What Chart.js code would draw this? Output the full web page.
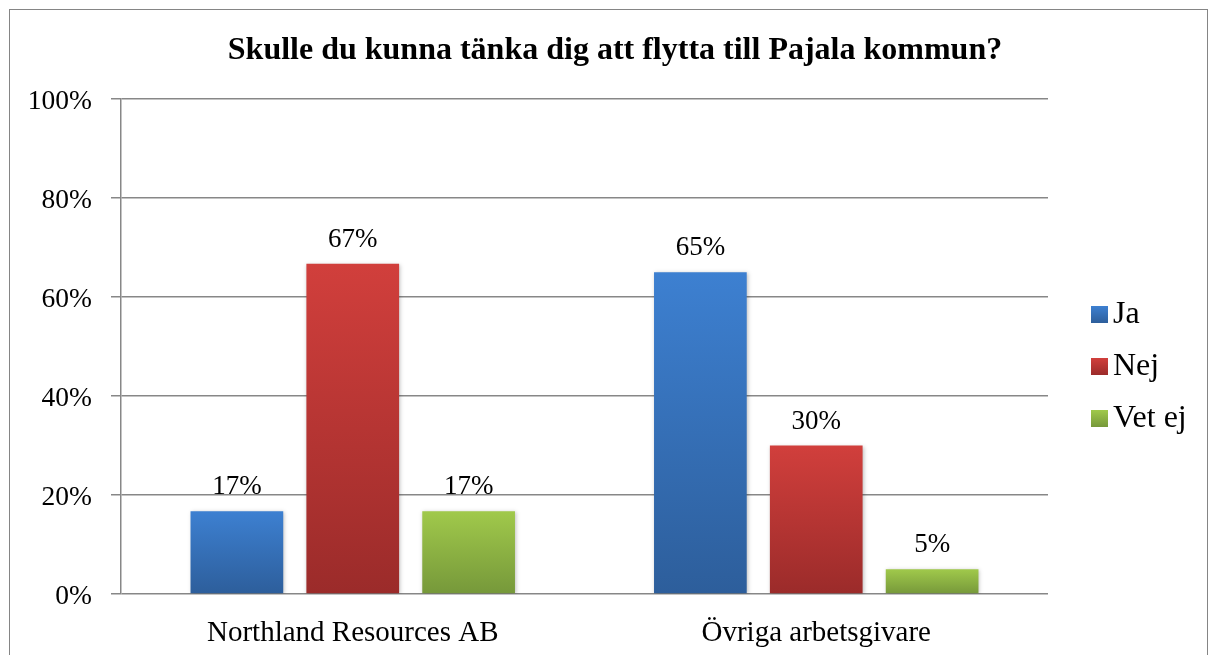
<!DOCTYPE html>
<html>
<head>
<meta charset="utf-8">
<script src="https://cdn.jsdelivr.net/npm/chart.js@4.4.1/dist/chart.umd.min.js"></script>
<style>
  html, body { margin: 0; padding: 0; background: #fff; }
  #wrap { position: relative; width: 1215px; height: 655px; overflow: hidden; }
  #frame { position: absolute; left: 9px; top: 9px; width: 1197px; height: 700px; border: 1px solid #858585; }
  canvas { position: absolute; left: 0; top: 0; }
</style>
</head>
<body>
<div id="wrap">
  <div id="frame"></div>
  <canvas id="chart" width="1215" height="655"></canvas>
</div>
<script>
const chartTitle = 'Skulle du kunna tänka dig att flytta till Pajala kommun?';
const categories = ['Northland Resources AB', 'Övriga arbetsgivare'];
const seriesNames = ['Ja', 'Nej', 'Vet ej'];
const ja = [16.7, 65];
const nej = [66.7, 30];
const vetEj = [16.7, 5];
const yMax = 100;
const yStep = 20;

const serif = '"Liberation Serif", "Times New Roman", serif';
const gridColor = '#878787';

// top / bottom colours of each series gradient
const shades = [
    ['#3d80d1', '#2d5e9b'],
    ['#d13f3c', '#9b2b2a'],
    ['#a0c94b', '#76983a']
];

const barFill = (top, bottom) => (c) => {
    const y = c.chart.scales.y;
    if (c.type !== 'data' || !y) return top;
    const y0 = y.getPixelForValue(c.raw);
    const y1 = y.getPixelForValue(0);
    if (!isFinite(y0) || !isFinite(y1) || y0 === y1) return top;
    const g = c.chart.ctx.createLinearGradient(0, y0, 0, y1);
    g.addColorStop(0, top);
    g.addColorStop(1, bottom);
    return g;
};

const shadowPlugin = {
    id: 'barShadow',
    beforeDatasetsDraw(chart) {
        const ctx = chart.ctx;
        ctx.save();
        ctx.shadowColor = 'rgba(0,0,0,0.25)';
        ctx.shadowBlur = 4;
        ctx.shadowOffsetX = 1;
        ctx.shadowOffsetY = 1;
    },
    afterDatasetsDraw(chart) {
        chart.ctx.restore();
    }
};

const valueLabels = {
    id: 'valueLabels',
    afterDatasetsDraw(chart) {
        const ctx = chart.ctx;
        ctx.save();
        ctx.font = '27px ' + serif;
        ctx.fillStyle = '#000';
        ctx.textAlign = 'center';
        ctx.textBaseline = 'alphabetic';
        chart.data.datasets.forEach((ds, i) => {
            chart.getDatasetMeta(i).data.forEach((bar, j) => {
                ctx.fillText(Math.round(ds.data[j]) + '%', bar.x, bar.y - 17);
            });
        });
        ctx.restore();
    }
};

const titleAndLegend = {
    id: 'titleAndLegend',
    afterDraw(chart) {
        const ctx = chart.ctx;
        ctx.save();
        ctx.fillStyle = '#000';
        ctx.font = 'bold 32px ' + serif;
        ctx.textAlign = 'center';
        ctx.textBaseline = 'alphabetic';
        ctx.fillText(chartTitle, 615, 59);

        ctx.font = '32px ' + serif;
        ctx.textAlign = 'left';
        chart.data.datasets.forEach((ds, i) => {
            const cy = 314 + i * 52;
            const g = ctx.createLinearGradient(0, cy - 8, 0, cy + 9);
            g.addColorStop(0, shades[i][0]);
            g.addColorStop(1, shades[i][1]);
            ctx.fillStyle = g;
            ctx.fillRect(1091, cy - 8, 17, 17);
            ctx.fillStyle = '#000';
            ctx.fillText(ds.label, 1113, cy + 9);
        });
        ctx.restore();
    }
};

new Chart(document.getElementById('chart'), {
    type: 'bar',
    data: {
        labels: categories,
        datasets: [ja, nej, vetEj].map((d, i) => ({
            label: seriesNames[i],
            data: d,
            backgroundColor: barFill(shades[i][0], shades[i][1]),
            borderWidth: 0,
            barPercentage: 0.8,
            categoryPercentage: 0.75
        }))
    },
    options: {
        responsive: false,
        animation: false,
        layout: {
            padding: { left: 29, right: 167, top: 99, bottom: 0 }
        },
        scales: {
            x: {
                grid: { display: false },
                border: { display: false },
                ticks: {
                    color: '#000',
                    padding: 14,
                    maxRotation: 0,
                    font: { family: serif, size: 29 }
                },
                afterFit: (s) => {
                    s.height = 61;
                    s.paddingLeft = 0;
                    s.paddingRight = 0;
                }
            },
            y: {
                min: 0,
                max: yMax,
                ticks: {
                    stepSize: yStep,
                    color: '#000',
                    padding: 19,
                    labelOffset: 3,
                    font: { family: serif, size: 27.5 },
                    callback: (v) => v + '%'
                },
                grid: {
                    color: gridColor,
                    lineWidth: 1.5,
                    tickLength: 10,
                    tickColor: gridColor
                },
                border: { display: true, color: gridColor, width: 1.5 },
                afterFit: (s) => {
                    s.width = 92;
                    s.paddingTop = 0;
                    s.paddingBottom = 0;
                }
            }
        },
        plugins: {
            legend: { display: false },
            title: { display: false },
            tooltip: { enabled: false }
        }
    },
    plugins: [shadowPlugin, valueLabels, titleAndLegend]
});
</script>
</body>
</html>
